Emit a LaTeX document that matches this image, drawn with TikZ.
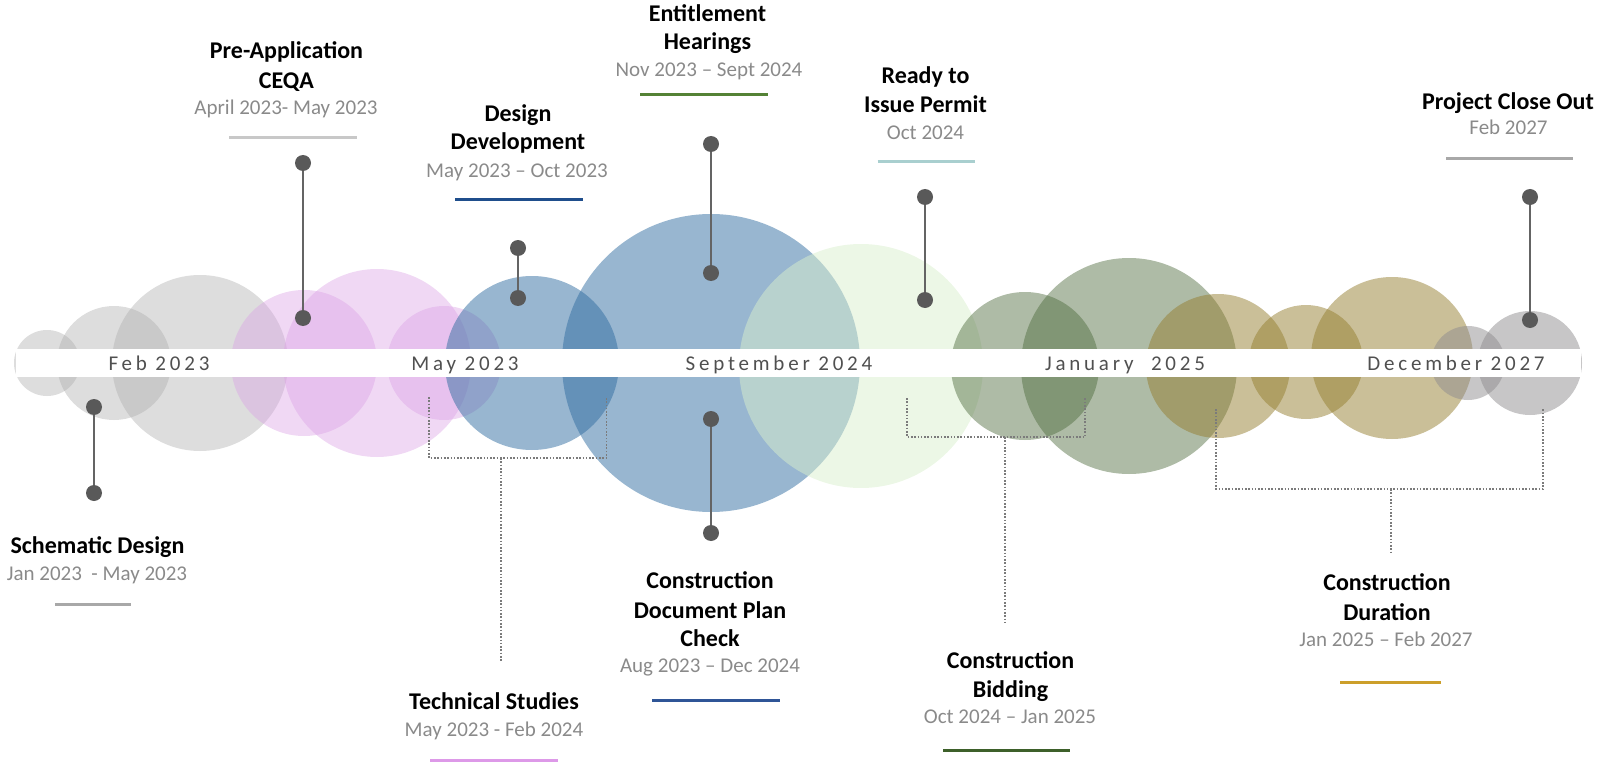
\documentclass[tikz,border=0pt]{standalone}
\usepackage{fontspec}
\setmainfont{Carlito}
\newfontfamily\bandfont{Carlito}[LetterSpace=18]
\definecolor{greyA}{RGB}{172,172,172}
\definecolor{pinkA}{RGB}{219,162,229}
\definecolor{blueA}{RGB}{49,109,161}
\definecolor{mintA}{RGB}{217,239,205}
\definecolor{oliveA}{RGB}{75,104,57}
\definecolor{tanA}{RGB}{149,127,49}
\definecolor{greyB}{RGB}{143,141,143}
\definecolor{dotgrey}{RGB}{89,89,89}
\definecolor{stemgrey}{RGB}{100,100,100}
\definecolor{dategrey}{RGB}{138,138,138}
\definecolor{bandtext}{RGB}{80,80,80}
\definecolor{ruleGrey}{RGB}{200,200,200}
\definecolor{ruleGreyB}{RGB}{168,168,168}
\definecolor{ruleBlue}{RGB}{31,78,140}
\definecolor{ruleBlueB}{RGB}{47,85,151}
\definecolor{ruleGreen}{RGB}{84,130,53}
\definecolor{ruleTeal}{RGB}{169,207,207}
\definecolor{rulePink}{RGB}{221,153,232}
\definecolor{ruleDark}{RGB}{61,96,42}
\definecolor{ruleGold}{RGB}{204,159,42}
\begin{document}
\begin{tikzpicture}[x=1pt,y=-1pt,
  ttl/.style={anchor=base,inner sep=0pt,font=\bfseries\fontsize{24}{29}\selectfont},
  dte/.style={anchor=base,inner sep=0pt,text=dategrey,font=\fontsize{21}{25}\selectfont},
  bandlbl/.style={anchor=base,inner sep=0pt,text=bandtext,font=\bandfont\fontsize{21}{24}\selectfont},
  pindot/.style={circle,fill=dotgrey,inner sep=0pt,minimum size=16pt},
  pinline/.style={draw=stemgrey,line width=1.6pt},
  bracket/.style={draw=stemgrey!85,line width=1.6pt,dash pattern=on 1.6pt off 1.7pt},
  rulebar/.style={line width=3pt}]
\useasboundingbox (0,0) rectangle (1610,765);

% bubbles, left to right
\begin{scope}[fill opacity=0.41]
  \fill[greyA] (47,363) circle (33);
  \fill[greyA] (114,363) circle (57);
  \fill[greyA] (200,363) circle (88);
\end{scope}
\begin{scope}[fill opacity=0.42]
  \fill[pinkA] (304,363) circle (73);
  \fill[pinkA] (377,363) circle (94);
  \fill[pinkA] (444,363) circle (57);
\end{scope}
\begin{scope}[fill opacity=0.5]
  \fill[blueA] (532,363) circle (87);
  \fill[blueA] (711,363) circle (149);
  \fill[mintA] (861,366) circle (122);
\end{scope}
\begin{scope}[fill opacity=0.45]
  \fill[oliveA] (1025,366) circle (74);
  \fill[oliveA] (1129,366) circle (108);
\end{scope}
\begin{scope}[fill opacity=0.5]
  \fill[tanA] (1218,366) circle (72);
  \fill[tanA] (1306,362) circle (57);
  \fill[tanA] (1392,358) circle (81);
  \fill[greyB] (1468,363) circle (37);
  \fill[greyB] (1530,363) circle (52);
\end{scope}

% timeline band
\fill[white] (15.5,349) rectangle (1581,377);
\node[bandlbl] (m1) at (159,370.7) {Feb 2023};
\node[bandlbl] (m2) at (465,370.7) {May 2023};
\node[bandlbl] (m3) at (779,370.7) {September 2024};
\node[bandlbl] (m4) at (1125,370.7) {January\hspace{9pt} 2025};
\node[bandlbl] (m5) at (1456,370.7) {December 2027};

% pins
\node[pindot] (p1a) at (94,407) {};
\node[pindot] (p1b) at (94,493) {};
\node[pindot] (p2a) at (303,163) {};
\node[pindot] (p2b) at (303,318) {};
\node[pindot] (p3a) at (518,248) {};
\node[pindot] (p3b) at (518,298) {};
\node[pindot] (p4a) at (711,144) {};
\node[pindot] (p4b) at (711,273) {};
\node[pindot] (p5a) at (711,419) {};
\node[pindot] (p5b) at (711,533) {};
\node[pindot] (p6a) at (925,197) {};
\node[pindot] (p6b) at (925,300) {};
\node[pindot] (p7a) at (1530,197) {};
\node[pindot] (p7b) at (1530,320) {};
\foreach \a/\b in {p1a/p1b,p2a/p2b,p3a/p3b,p4a/p4b,p5a/p5b,p6a/p6b,p7a/p7b}
  \draw[pinline] (\a) -- (\b);

% dotted brackets
\coordinate (tsL) at (429,397);
\coordinate (tsR) at (606.5,397);
\coordinate (tsM) at (501,458);
\coordinate (tsE) at (501,661);
\draw[bracket] (tsL) -- (tsL |- tsM) -- (tsR |- tsM) -- (tsR);
\draw[bracket] (tsM) -- (tsE);

\coordinate (cbL) at (907,398);
\coordinate (cbR) at (1085,398);
\coordinate (cbM) at (1005,437);
\coordinate (cbE) at (1005,624);
\draw[bracket] (cbL) -- (cbL |- cbM) -- (cbR |- cbM) -- (cbR);
\draw[bracket] (cbM) -- (cbE);

\coordinate (cdL) at (1216,409);
\coordinate (cdR) at (1543,409);
\coordinate (cdM) at (1391,489);
\coordinate (cdE) at (1391,553);
\draw[bracket] (cdL) -- (cdL |- cdM) -- (cdR |- cdM) -- (cdR);
\draw[bracket] (cdM) -- (cdE);

% labels above the band
\node[ttl] (preT1) at (286.5,59) {Pre-Application};
\node[ttl] (preT2) at (286.5,88.3) {CEQA};
\node[dte] (preD) at (286,115) {April 2023- May 2023};
\draw[rulebar,ruleGrey] (229,137.3) -- (357,137.3);

\node[ttl] (ddT1) at (518,121.7) {Design};
\node[ttl] (ddT2) at (518,150) {Development};
\node[dte] (ddD) at (517,177.7) {May 2023 – Oct 2023};
\draw[rulebar,ruleBlue] (455,199.3) -- (583,199.3);

\node[ttl] (ehT1) at (707.5,21.7) {Entitlement};
\node[ttl] (ehT2) at (707.5,50) {Hearings};
\node[dte] (ehD) at (709,76.7) {Nov 2023 – Sept 2024};
\draw[rulebar,ruleGreen] (640,94.3) -- (768,94.3);

\node[ttl] (rpT1) at (925.5,83.3) {Ready to};
\node[ttl] (rpT2) at (925.5,113) {Issue Permit};
\node[dte] (rpD) at (925.5,140) {Oct 2024};
\draw[rulebar,ruleTeal] (877.5,161.7) -- (974.6,161.7);

\node[ttl] (coT) at (1508,110) {Project Close Out};
\node[dte] (coD) at (1508.5,135) {Feb 2027};
\draw[rulebar,ruleGreyB] (1446,158.3) -- (1573,158.3);

% labels below the band
\node[ttl] (sdT) at (97.5,553.3) {Schematic Design};
\node[dte] (sdD) at (97,580) {Jan 2023~~- May 2023};
\draw[rulebar,ruleGreyB] (55,604.7) -- (131,604.7);

\node[ttl] (tsT) at (494,709.3) {Technical Studies};
\node[dte] (tsD) at (494,736.7) {May 2023 - Feb 2024};
\draw[rulebar,rulePink] (430,760) -- (558,760);

\node[ttl] (cpT1) at (710,588.3) {Construction};
\node[ttl] (cpT2) at (710,618.3) {Document Plan};
\node[ttl] (cpT3) at (710,646.7) {Check};
\node[dte] (cpD) at (710,672.7) {Aug 2023 – Dec 2024};
\draw[rulebar,ruleBlueB] (652,700) -- (780,700);

\node[ttl] (cbT1) at (1010.5,668.3) {Construction};
\node[ttl] (cbT2) at (1010.5,697.3) {Bidding};
\node[dte] (cbD) at (1010,723.3) {Oct 2024 – Jan 2025};
\draw[rulebar,ruleDark] (943,750.7) -- (1070,750.7);

\node[ttl] (cuT1) at (1387,590) {Construction};
\node[ttl] (cuT2) at (1387,620) {Duration};
\node[dte] (cuD) at (1386,646.7) {Jan 2025 – Feb 2027};
\draw[rulebar,ruleGold] (1340,682) -- (1441,682);
\end{tikzpicture}
\end{document}
